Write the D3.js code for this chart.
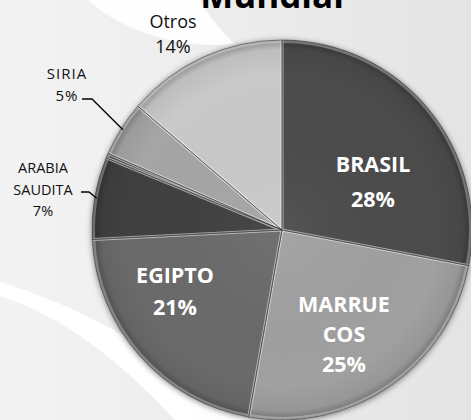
<!DOCTYPE html>
<html>
<head>
<meta charset="utf-8">
<script src="https://cdn.jsdelivr.net/npm/d3@7"></script>
<style>
  html, body { margin: 0; padding: 0; background: #e9e9e9; }
  svg { display: block; }
</style>
</head>
<body>
<div id="chart"></div>
<script>
// slice data, clockwise from 12 o'clock
const paises = ["BRASIL", "MARRUECOS", "EGIPTO", "ARABIA SAUDITA", "", "SIRIA", "Otros"];
const valores = [28.0, 24.8, 21.4, 7.0, 0.4, 4.7, 13.7];
const colores = ["#4c4c4c", "#a0a0a0", "#6b6b6b", "#404040", "#5c5c5c", "#a5a5a5", "#c9c9c9"];
// label text lines (percent is appended from the values)
const lineas = [["BRASIL"], ["MARRUE", "COS"], ["EGIPTO"], ["ARABIA", "SAUDITA"], [], ["SIRIA"], ["Otros"]];

const W = 471, H = 420;
const cx = 282, cy = 230, R = 190;

const svg = d3.select("#chart").append("svg")
    .attr("width", W)
    .attr("height", H);

const defs = svg.append("defs");

// background
const bg = defs.append("linearGradient").attr("id", "bg")
    .attr("x1", 0).attr("y1", 0).attr("x2", 1).attr("y2", 0);
bg.append("stop").attr("offset", "0%").attr("stop-color", "#f3f3f3");
bg.append("stop").attr("offset", "45%").attr("stop-color", "#ededed");
bg.append("stop").attr("offset", "100%").attr("stop-color", "#e4e4e4");
svg.append("rect").attr("width", W).attr("height", H).attr("fill", "url(#bg)");

// white swooshes in the background
svg.append("path")
    .attr("d", "M88,0 C120,30 180,50 235,44 C215,25 205,10 200,0 Z")
    .attr("fill", "#ffffff").attr("opacity", 0.9);
svg.append("path")
    .attr("d", "M0,282 C60,300 150,340 250,420 L175,420 C120,360 60,315 0,296 Z")
    .attr("fill", "#ffffff").attr("opacity", 0.95);

// title (mostly cut off at top)
svg.append("text")
    .attr("x", 272).attr("y", 8)
    .attr("text-anchor", "middle")
    .attr("font-family", "Open Sans")
    .attr("font-weight", "bold")
    .attr("font-size", 35)
    .attr("fill", "#000")
    .text("Mundial");

// shading for the pie (gradient coords are local to the centred group)
const rim = defs.append("radialGradient").attr("id", "rim")
    .attr("gradientUnits", "userSpaceOnUse")
    .attr("cx", 0).attr("cy", 0).attr("r", R);
rim.append("stop").attr("offset", "0%").attr("stop-color", "#fff").attr("stop-opacity", 0.05);
rim.append("stop").attr("offset", "82%").attr("stop-color", "#000").attr("stop-opacity", 0);
rim.append("stop").attr("offset", "95%").attr("stop-color", "#000").attr("stop-opacity", 0.06);
rim.append("stop").attr("offset", "100%").attr("stop-color", "#000").attr("stop-opacity", 0.3);

const shadow = defs.append("filter").attr("id", "shadow")
    .attr("x", "-20%").attr("y", "-20%").attr("width", "140%").attr("height", "140%");
shadow.append("feGaussianBlur").attr("in", "SourceAlpha").attr("stdDeviation", 3);
shadow.append("feOffset").attr("dx", 0).attr("dy", 1).attr("result", "b");
shadow.append("feComponentTransfer").attr("in", "b").attr("result", "s")
  .append("feFuncA").attr("type", "linear").attr("slope", 0.5);
const merge = shadow.append("feMerge");
merge.append("feMergeNode").attr("in", "s");
merge.append("feMergeNode").attr("in", "SourceGraphic");

const pie = d3.pie().sort(null).value(d => d);
const arcs = pie(valores);
const arc = d3.arc().innerRadius(0).outerRadius(R);

const g = svg.append("g").attr("transform", `translate(${cx},${cy})`);

const base = g.append("g").attr("filter", "url(#shadow)");
base.selectAll("path.slice")
  .data(arcs)
  .join("path")
    .attr("class", "slice")
    .attr("d", arc)
    .attr("fill", (d, i) => colores[i]);

// rim shading
g.selectAll("path.shade")
  .data(arcs)
  .join("path")
    .attr("class", "shade")
    .attr("d", arc)
    .attr("fill", "url(#rim)");

// bevel edges: light inner line + dark seam
g.selectAll("path.hi")
  .data(arcs)
  .join("path")
    .attr("class", "hi")
    .attr("d", d3.arc().innerRadius(0).outerRadius(R - 1.5))
    .attr("fill", "none")
    .attr("stroke", "#fff")
    .attr("stroke-opacity", 0.3)
    .attr("stroke-width", 3);
g.selectAll("path.seam")
  .data(arcs)
  .join("path")
    .attr("class", "seam")
    .attr("d", arc)
    .attr("fill", "none")
    .attr("stroke", "#3a3a3a")
    .attr("stroke-opacity", 0.7)
    .attr("stroke-width", 0.8);

const pct = v => Math.round(v) + "%";

// inside labels
const inside = [
  { i: 0, x: 373, y: 172, dy: 35 },
  { i: 1, x: 344, y: 312, dy: 30 },
  { i: 2, x: 175, y: 283, dy: 32 }
];
inside.forEach(l => {
  const t = svg.append("text")
      .attr("text-anchor", "middle")
      .attr("font-family", "Open Sans")
      .attr("font-weight", "bold")
      .attr("font-size", 21.5)
      .attr("fill", "#fff");
  lineas[l.i].concat([pct(valores[l.i])]).forEach((s, k) => {
    t.append("tspan").attr("x", l.x).attr("y", l.y + k * l.dy).text(s);
  });
});

// outside labels
const outside = [
  { i: 6, x: 173, y: 28, dy: 25, size: 18, ls: 0 },
  { i: 5, x: 67, y: 79, dy: 22, size: 15, ls: 1 },
  { i: 3, x: 43, y: 173, dy: 21.5, size: 14.5, ls: 0 }
];
outside.forEach(l => {
  const t = svg.append("text")
      .attr("text-anchor", "middle")
      .attr("font-family", "Open Sans")
      .attr("font-size", l.size)
      .attr("letter-spacing", l.ls)
      .attr("fill", "#111");
  lineas[l.i].concat([pct(valores[l.i])]).forEach((s, k) => {
    t.append("tspan").attr("x", l.x).attr("y", l.y + k * l.dy).text(s);
  });
});

// leader lines toward the slice edge
function leader(i, x0, y0, x1) {
  const a = (arcs[i].startAngle + arcs[i].endAngle) / 2;
  const ex = cx + Math.sin(a) * (R - 2), ey = cy - Math.cos(a) * (R - 2);
  svg.append("path")
      .attr("d", `M${x0},${y0} H${x1} L${ex},${ey}`)
      .attr("fill", "none")
      .attr("stroke", "#000")
      .attr("stroke-width", 1.3);
}
leader(5, 82, 99, 92);
leader(3, 81, 192, 89);
</script>
</body>
</html>
